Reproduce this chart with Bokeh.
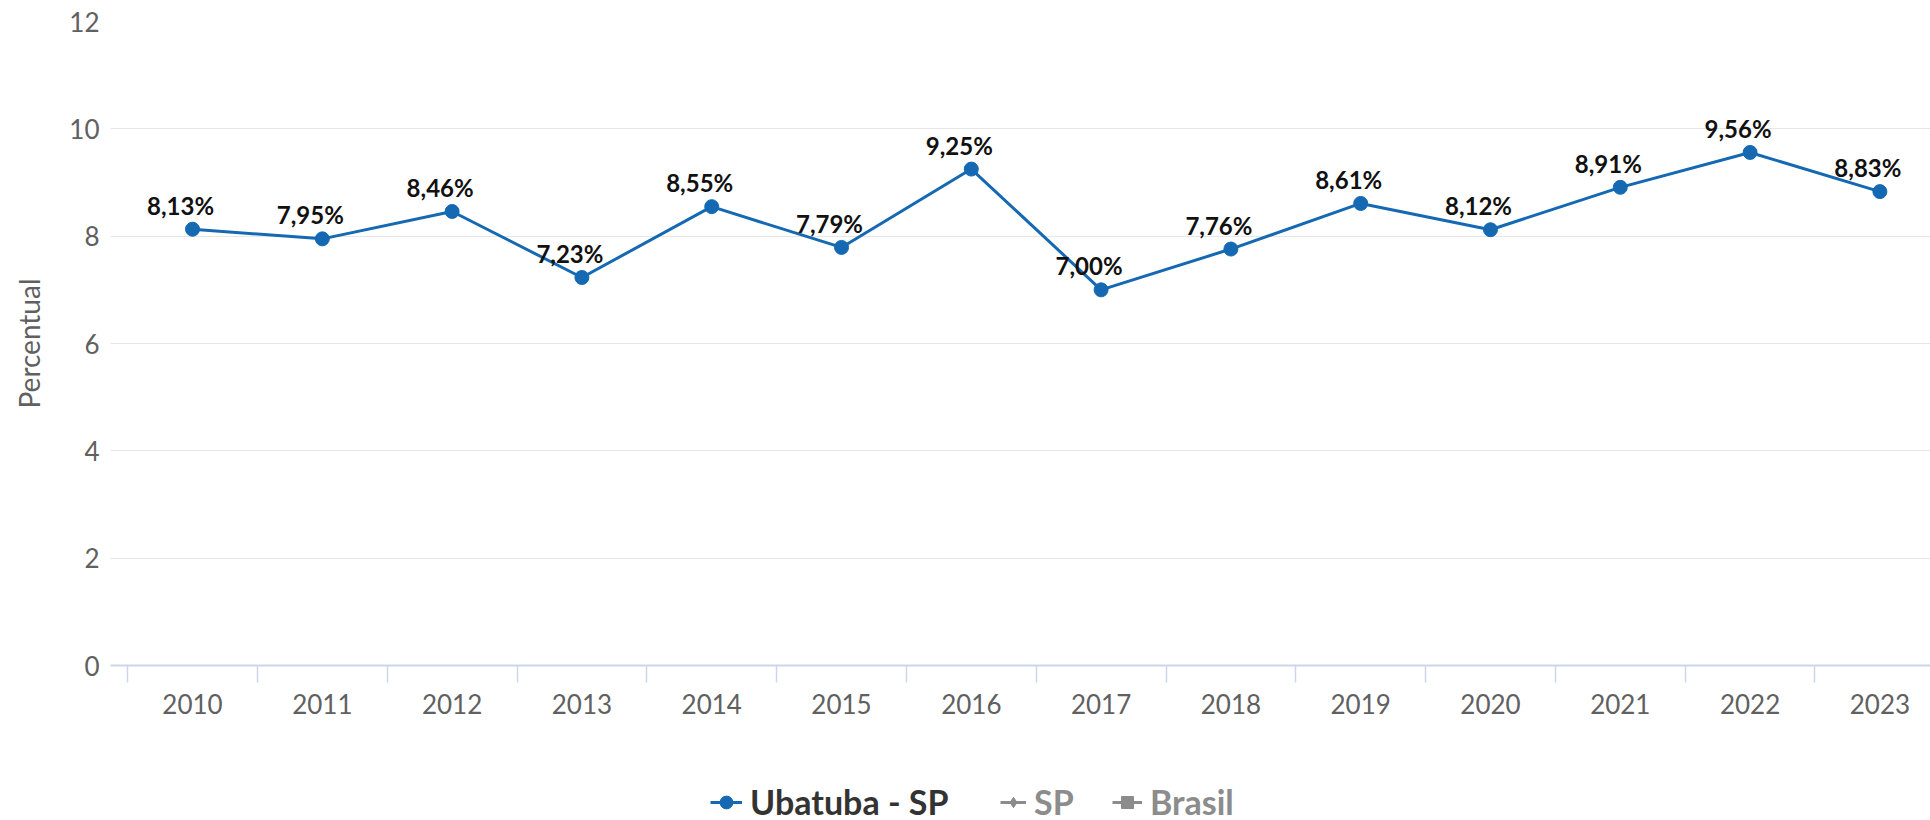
from bokeh.plotting import figure
from bokeh.layouts import column
from bokeh.models import Range1d, FixedTicker, Legend, LegendItem
from bokeh.core.properties import value
from bokeh.embed import file_html
from bokeh.resources import INLINE

# ---- data ----
years = ["2010", "2011", "2012", "2013", "2014", "2015", "2016",
         "2017", "2018", "2019", "2020", "2021", "2022", "2023"]
ubatuba = [8.13, 7.95, 8.46, 7.23, 8.55, 7.79, 9.25,
           7.00, 7.76, 8.61, 8.12, 8.91, 9.56, 8.83]
sp = []       # hidden series (no visible values)
brasil = []   # hidden series (no visible values)
y_ticks = [0, 2, 4, 6, 8, 10, 12]
series_names = ["Ubatuba - SP", "SP", "Brasil"]

FONT = "Lato"
BLUE = "#1569b3"
GRAY = "#8c8c8c"
W = 1930

xs = list(range(len(years)))
labels = [("%.2f" % v).replace(".", ",") + "%" for v in ubatuba]

p = figure(width=W, height=736, output_backend="svg", toolbar_location=None,
           x_range=Range1d(-0.632, 13.39), y_range=Range1d(0, 12.0),
           min_border_left=110, min_border_right=0,
           min_border_top=21, min_border_bottom=71)
p.outline_line_color = None
p.background_fill_color = "white"
p.border_fill_color = "white"

# grid
p.xgrid.visible = False
p.ygrid.ticker = FixedTicker(ticks=y_ticks)
p.ygrid.grid_line_color = "#e6e6e6"
p.ygrid.grid_line_width = 1

# x axis
xa = p.xaxis[0]
xa.ticker = FixedTicker(ticks=xs, minor_ticks=[i - 0.5 for i in range(len(years) + 1)])
xa.major_label_overrides = {i: y for i, y in enumerate(years)}
xa.major_tick_line_color = None
xa.major_tick_out = 0
xa.major_tick_in = 0
xa.minor_tick_out = 17
xa.minor_tick_in = 0
xa.minor_tick_line_color = "#ccd6eb"
xa.minor_tick_line_width = 1.5
xa.axis_line_color = "#ccd6eb"
xa.axis_line_width = 2
xa.major_label_standoff = 11
xa.major_label_text_font = FONT
xa.major_label_text_font_size = "26px"
xa.major_label_text_color = "#606060"

# y axis
ya = p.yaxis[0]
ya.ticker = FixedTicker(ticks=y_ticks)
ya.axis_line_color = None
ya.major_tick_line_color = None
ya.major_tick_out = 0
ya.major_tick_in = 0
ya.minor_tick_line_color = None
ya.major_label_standoff = 11
ya.major_label_text_font = FONT
ya.major_label_text_font_size = "26px"
ya.major_label_text_color = "#606060"
ya.axis_label = "Percentual"
ya.axis_label_text_font = FONT
ya.axis_label_text_font_style = "normal"
ya.axis_label_text_font_size = "28px"
ya.axis_label_text_color = "#606060"
ya.axis_label_standoff = 20

# series
p.line(xs, ubatuba, line_color=BLUE, line_width=3)
p.scatter(xs, ubatuba, size=14, marker="circle", fill_color=BLUE, line_color=BLUE)
p.text(xs, ubatuba, text=labels, x_offset=-12, y_offset=-24,
       text_align="center", text_baseline="alphabetic",
       text_font=value(FONT), text_font_style="bold", text_font_size="24px",
       text_color="#111111")

# ---- legend strip ----
LH = 90
lg = figure(width=W, height=LH, output_backend="svg", toolbar_location=None,
            x_range=Range1d(0, 1), y_range=Range1d(0, 1),
            min_border_left=0, min_border_right=0, min_border_top=0, min_border_bottom=0)
lg.axis.visible = False
lg.grid.visible = False
lg.outline_line_color = None

# placeholder points outside the visible range, only so the legend glyphs draw
ph_x, ph_y = [-10], [-10]
l1 = lg.line(x=ph_x, y=ph_y, line_color=BLUE, line_width=3)
s1 = lg.scatter(x=ph_x, y=ph_y, marker="circle", fill_color=BLUE, line_color=BLUE)
l2 = lg.line(x=ph_x, y=ph_y, line_color=GRAY, line_width=3)
s2 = lg.scatter(x=ph_x, y=ph_y, marker="diamond", fill_color=GRAY, line_color=GRAY)
l3 = lg.line(x=ph_x, y=ph_y, line_color=GRAY, line_width=3)
s3 = lg.scatter(x=ph_x, y=ph_y, marker="square", fill_color=GRAY, line_color=GRAY)


def mk_legend(label, rends, loc, color, gw):
    return Legend(items=[LegendItem(label=label, renderers=rends)],
                  location=loc, orientation="horizontal", padding=0, margin=0,
                  border_line_color=None, background_fill_alpha=0,
                  label_text_font=FONT, label_text_font_style="bold",
                  label_text_font_size="34px", label_text_color=color,
                  glyph_width=gw, glyph_height=34, label_height=34,
                  label_standoff=8, spacing=0)


LY = 4  # bottom edge of the legend row, from the strip's bottom
lg.add_layout(mk_legend(series_names[0], [l1, s1], (600, LY), "#333333", 32))
lg.add_layout(mk_legend(series_names[1], [l2, s2], (890, LY), GRAY, 26))
lg.add_layout(mk_legend(series_names[2], [l3, s3], (1002, LY), GRAY, 30))

layout = column(p, lg, spacing=0)
open("out.html", "w").write(file_html(layout, INLINE))
